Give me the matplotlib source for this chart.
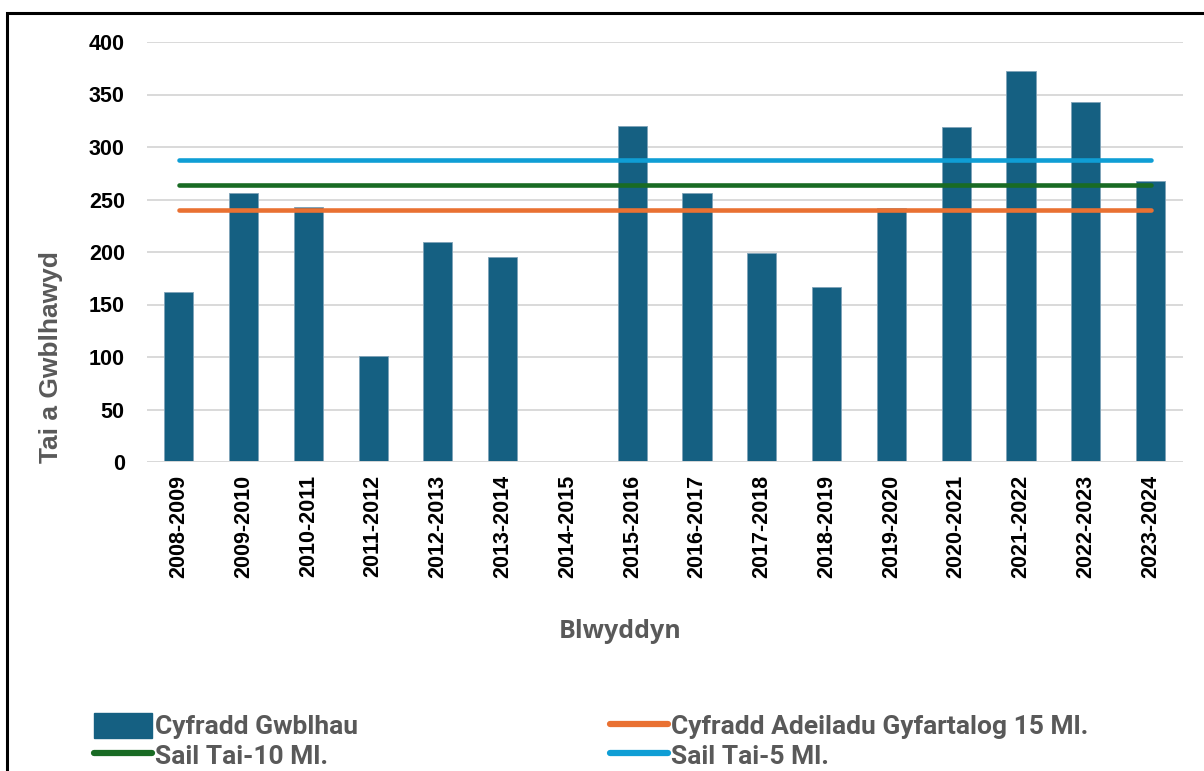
import numpy as np
import matplotlib.pyplot as plt
from matplotlib.patches import Rectangle, Patch
from matplotlib.lines import Line2D

# data
years = ['2008-2009', '2009-2010', '2010-2011', '2011-2012', '2012-2013', '2013-2014',
         '2014-2015', '2015-2016', '2016-2017', '2017-2018', '2018-2019', '2019-2020',
         '2020-2021', '2021-2022', '2022-2023', '2023-2024']
completed = [162, 256, 243, 101, 210, 195, 0, 320, 256, 199, 167, 242, 319, 372, 343, 268]
avg_build_15 = 240
base_10 = 264
base_5 = 288

yticks = np.arange(0, 401, 50)

c_bar = '#156082'
c_orange = '#E97132'
c_green = '#196B24'
c_blue = '#0F9ED5'
grey = '#595959'

W, H = 1204, 771
fig = plt.figure(figsize=(W / 100, H / 100), dpi=100)

# frame round the chart (only left and top edges are visible)
fig.patches.append(Rectangle((7 / W, -0.05), 1.2, (H - 13) / H + 0.05, transform=fig.transFigure,
                             fill=False, edgecolor='black', linewidth=2.2, zorder=0))

ax = fig.add_axes([147 / W, 1 - 462 / H, (1183 - 147) / W, (462 - 42) / H])
x = np.arange(len(years))
ax.bar(x, completed, width=0.45, color=c_bar, edgecolor='#7FA3B8', linewidth=0.6, zorder=2)
ax.plot(x, [avg_build_15] * len(x), color=c_orange, lw=3.3, solid_capstyle='round', zorder=3)
ax.plot(x, [base_10] * len(x), color=c_green, lw=3.3, solid_capstyle='round', zorder=3)
ax.plot(x, [base_5] * len(x), color=c_blue, lw=3.3, solid_capstyle='round', zorder=3)
ax.axhline(0, color='#D9D9D9', lw=1.4, zorder=4)

ax.set_xlim(-0.49, 15.5)
ax.set_ylim(0, 400)
ax.set_yticks(yticks)
ax.set_xticks(x)
ax.set_xticklabels(years, rotation=90, fontsize=15.5, fontweight='bold', family='Liberation Sans')
for t in ax.get_yticklabels():
    t.set_fontsize(15.5)
    t.set_fontweight('bold')
    t.set_family('Liberation Sans')
ax.tick_params(axis='x', length=0, pad=9)
ax.tick_params(axis='y', length=0, pad=16)
ax.grid(axis='y', color='#D9D9D9', lw=1.4, zorder=0)
ax.set_axisbelow(True)
for s in ax.spines.values():
    s.set_visible(False)

fig.text(51 / W, 1 - 357 / H, 'Tai a Gwblhawyd', rotation=90, ha='center', va='center',
         fontsize=19, fontweight='bold', color=grey, family='Liberation Sans')
fig.text(620 / W, 1 - 632 / H, 'Blwyddyn', ha='center', va='center',
         fontsize=18, fontweight='bold', color=grey, family='Open Sans')

# legend in two columns
h_bar = Patch(facecolor=c_bar, edgecolor=c_bar)
h_or = Line2D([], [], color=c_orange, lw=4.5, solid_capstyle='round')
h_gr = Line2D([], [], color=c_green, lw=4.5, solid_capstyle='round')
h_bl = Line2D([], [], color=c_blue, lw=4.5, solid_capstyle='round')
lfont = {'family': 'Roboto', 'weight': 'bold', 'size': 19}
for handles, labels, xl in [([h_bar, h_gr], ['Cyfradd Gwblhau', 'Sail Tai-10 Ml.'], 94),
                            ([h_or, h_bl], ['Cyfradd Adeiladu Gyfartalog 15 Ml.', 'Sail Tai-5 Ml.'], 610)]:
    leg = fig.legend(handles, labels, loc='center left', bbox_to_anchor=(xl / W, 1 - 741 / H),
                     frameon=False, prop=lfont, handlelength=2.2, handleheight=1.05,
                     handletextpad=0.12, labelspacing=0.12, borderpad=0, borderaxespad=0)
    for t in leg.get_texts():
        t.set_color(grey)

fig.savefig('out.png', dpi=100)
